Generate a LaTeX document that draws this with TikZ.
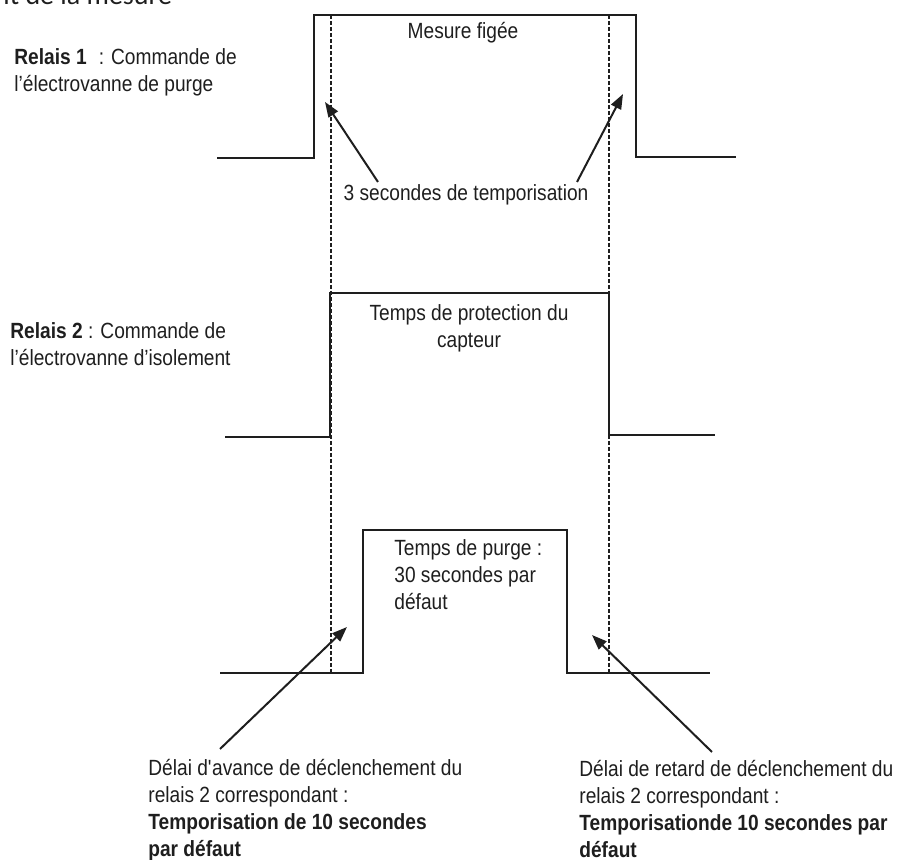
\documentclass[tikz,border=0pt]{standalone}
\usepackage{fontspec}
\setmainfont{Liberation Sans}[FakeStretch=0.87]
\newfontfamily\headfont{Carlito}
\usetikzlibrary{arrows.meta}
\definecolor{tdInk}{RGB}{30, 30, 30}
\tikzset{
    base/.style={
        font=\fontsize{11}{13.5}\selectfont,
        text=tdInk,
        inner sep=0pt
    },
    legend/.style={
        base,
        align=left,
        anchor=north west
    },
    caption/.style={
        base,
        align=center
    },
    signal/.style={
        line width=1.1pt,
        draw=tdInk
    },
    guide/.style={
        line width=1.3pt,
        draw=tdInk,
        dash pattern=on 2pt off 1pt
    },
    pointer/.style={
        -{Triangle[length=7.5pt, width=5.5pt]},
        line width=1pt,
        draw=tdInk
    }
}

\begin{document}
\begin{tikzpicture}[x=0.5pt, y=-0.5pt]
  \useasboundingbox (0,0) rectangle (906,860);

  % cut-off heading
  \node[base, font=\headfont\fontsize{14}{16}\selectfont, anchor=base west] (header) at (3,5) {it de la mesure};

  % Relais 1: purge valve
  \node[legend] (relay1) at (14,48) {\textbf{Relais 1}\hskip 6pt: Commande de\\l’électrovanne de purge};
  \draw[signal] (217,158) -- (314,158) -- (314,15) -- (636,15) -- (636,157) -- (736,157);
  \node[caption, anchor=base] (frozen) at (463,39) {Mesure figée};
  \node[caption, anchor=base] (delay) at (466,201) {3 secondes de temporisation};

  % Relais 2: isolation valve
  \node[legend] (relay2) at (10,322) {\textbf{Relais 2} : Commande de\\l’électrovanne d’isolement};
  \draw[signal] (225,437) -- (330,437) -- (330,293) -- (609,293) -- (609,435) -- (715,435);
  \node[caption, anchor=north] (protect) at (469,304) {Temps de protection du\\capteur};

  % purge pulse
  \draw[signal] (220,673) -- (363,673) -- (363,530) -- (567,530) -- (567,673) -- (710,673);
  \node[legend] (purge) at (394,539) {Temps de purge :\\30 secondes par\\défaut};

  % guide lines
  \draw[guide] (331,15) -- (331,673);
  \draw[guide] (609,15) -- (609,673);

  % bottom notes
  \node[legend] (advance) at (148,759) {Délai d\textquotesingle avance de déclenchement du\\relais 2 correspondant :\\\textbf{Temporisation de 10 secondes}\\\textbf{par défaut}};
  \node[legend] (retard) at (579,760) {Délai de retard de déclenchement du\\relais 2 correspondant :\\\textbf{Temporisationde 10 secondes par}\\\textbf{défaut}};

  % pointers
  \coordinate (d1a) at (378,182);
  \coordinate (d1b) at (325,102);
  \coordinate (d2a) at (577,182);
  \coordinate (d2b) at (623,94);
  \coordinate (a1) at (220,749);
  \coordinate (a2) at (347,627);
  \coordinate (r1) at (712,752);
  \coordinate (r2) at (592,635);
  \draw[pointer] (d1a) -- (d1b);
  \draw[pointer] (d2a) -- (d2b);
  \draw[pointer] (a1) -- (a2);
  \draw[pointer] (r1) -- (r2);

\end{tikzpicture}
\end{document}
